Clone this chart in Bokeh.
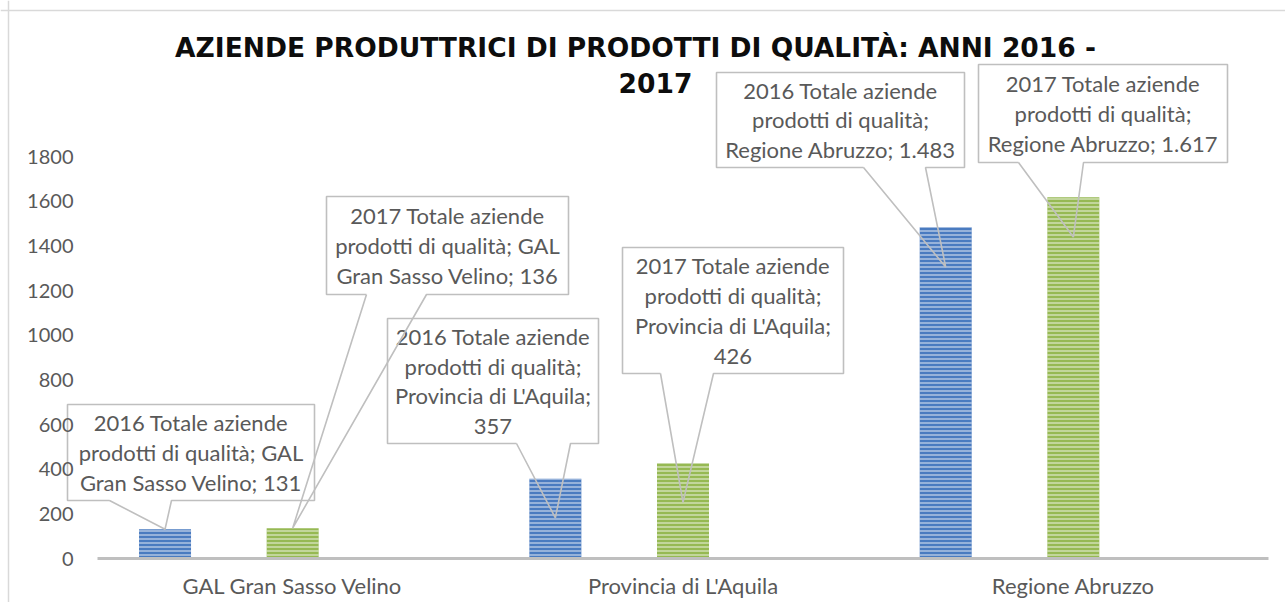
import textwrap
from bokeh.plotting import figure
from bokeh.models import ColumnDataSource, Range1d, FixedTicker, LinearAxis, Span
from bokeh.core.properties import value
from bokeh.embed import file_html
from bokeh.resources import INLINE

# ---------------- data ----------------
categories = ["GAL Gran Sasso Velino", "Provincia di L'Aquila", "Regione Abruzzo"]
series = ["2016", "2017"]
v2016 = [131, 357, 1483]
v2017 = [136, 426, 1617]
y_ticks = [0, 200, 400, 600, 800, 1000, 1200, 1400, 1600, 1800]
title_lines = ["AZIENDE PRODUTTRICI DI PRODOTTI DI QUALITÀ: ANNI 2016 -", "2017"]
measure = "Totale aziende prodotti di qualità"

# ---------------- layout (pixels) ----------------
W, H = 1285, 602
FL, FR, FB = 97, 1268, 558          # plot-area left / right / zero line (canvas px)
PPU = 402.0 / 1800.0                 # pixels per y unit
N = len(categories)
UX = (FR - FL) / N                   # pixels per category

def xd(px):
    return (px - FL) / UX

def yd(py):
    return (FB - py) / PPU

BLUE = "#4a7bc0"
GREEN = "#96b953"
GREY_TXT = "#595959"
FONT = "Lato"

p = figure(x_range=Range1d(xd(0), xd(W)), y_range=Range1d(yd(H), yd(0)),
           width=W, height=H, output_backend="svg", toolbar_location=None,
           x_axis_location=None, y_axis_location=None,
           min_border_left=0, min_border_right=0, min_border_top=0,
           min_border_bottom=0)
p.outline_line_color = None
p.grid.visible = False
p.background_fill_color = "white"
p.border_fill_color = "white"

# outer chart border (left and top edges)
p.add_layout(Span(location=xd(8), dimension="height", line_color="#d9d9d9",
                  line_width=1.5, level="underlay"))
p.add_layout(Span(location=yd(10), dimension="width", line_color="#d9d9d9",
                  line_width=1.5, level="underlay"))

# ---------------- axes ----------------
cat_pos = [i + 0.5 for i in range(N)]
ax = LinearAxis(fixed_location=0, bounds=(0, N),
                ticker=FixedTicker(ticks=cat_pos),
                major_label_overrides={c: n for c, n in zip(cat_pos, categories)})
ax.axis_line_color = "#bfbfbf"
ax.axis_line_width = 3
ax.major_tick_line_color = None
ax.minor_tick_line_color = None
ax.major_tick_out = 0
ax.major_tick_in = 0
ax.major_label_text_font = FONT
ax.major_label_text_font_size = "22px"
ax.major_label_text_color = GREY_TXT
ax.major_label_standoff = 13
p.add_layout(ax, "below")

ay = LinearAxis(fixed_location=0, ticker=FixedTicker(ticks=y_ticks))
ay.axis_line_color = None
ay.major_tick_line_color = None
ay.minor_tick_line_color = None
ay.major_tick_out = 0
ay.major_tick_in = 0
ay.major_label_text_font = FONT
ay.major_label_text_font_size = "20px"
ay.major_label_text_color = GREY_TXT
ay.major_label_standoff = 24
p.add_layout(ay, "left")

# ---------------- bars ----------------
BAR_W = 52 / UX
offsets = [-0.327, 0.0]
vals = {"2016": v2016, "2017": v2017}
for s, col, off in zip(series, [BLUE, GREEN], offsets):
    src = ColumnDataSource(dict(x=[c + off for c in cat_pos], top=vals[s]))
    p.vbar(x="x", top="top", width=BAR_W, bottom=0, source=src,
           fill_color=col, line_color=None,
           hatch_pattern="horizontal_line", hatch_color="white",
           hatch_alpha=0.6, hatch_scale=4, hatch_weight=1.4)

# ---------------- data-label callouts ----------------
def fmt(v):
    return f"{v:,}".replace(",", ".")

# box: left, top, right, bottom, wedge base x1, x2 (px); tip as fraction of bar height
boxes = {
    ("2016", 0): (67, 404, 314, 500, 109, 171, 1.0),
    ("2017", 0): (326, 196, 568, 294, 366, 426, 1.0),
    ("2016", 1): (387, 318, 598, 443, 516, 570, 0.51),
    ("2017", 1): (622, 247, 843, 373, 660, 713, 0.59),
    ("2016", 2): (716, 72, 964, 167, 863, 925, 0.88),
    ("2017", 2): (978, 64, 1227, 162, 1018, 1083, 0.89),
}
for s, off in zip(series, offsets):
    for i, cat in enumerate(categories):
        L, T, R, B, b1, b2, frac = boxes[(s, i)]
        v = vals[s][i]
        tip_x = cat_pos[i] + off
        tip_y = v * frac
        txt = "\n".join(textwrap.wrap(f"{s} {measure}; {cat}; {fmt(v)}", 24))
        p.quad(left=[xd(L)], right=[xd(R)], top=[yd(T)], bottom=[yd(B)],
               fill_color="white", line_color=None)
        p.line(x=[xd(b1), xd(L), xd(L), xd(R), xd(R), xd(b2), tip_x, xd(b1)],
               y=[yd(B), yd(B), yd(T), yd(T), yd(B), yd(B), tip_y, yd(B)],
               line_color="#bfbfbf", line_width=1.6)
        p.text(x=[xd((L + R) / 2)], y=[yd((T + B) / 2)], text=[txt],
               text_align="center", text_baseline="middle",
               text_font=value(FONT), text_font_size="22px",
               text_color=GREY_TXT, text_line_height=1.1)

# ---------------- title ----------------
p.text(x=[xd(635)], y=[yd(47)], text=[title_lines[0]], text_align="center",
       text_baseline="middle", text_font=value("DejaVu Sans"),
       text_font_style="bold", text_font_size="26.5px", text_color="#0d0d0d")
p.text(x=[xd(655)], y=[yd(82)], text=[title_lines[1]], text_align="center",
       text_baseline="middle", text_font=value("DejaVu Sans"),
       text_font_style="bold", text_font_size="26.5px", text_color="#0d0d0d")

open("out.html", "w").write(file_html(p, INLINE))
